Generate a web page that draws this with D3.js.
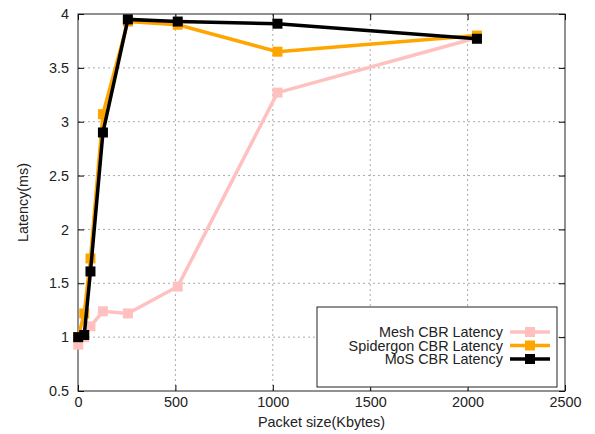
<!DOCTYPE html>
<html>
<head>
<meta charset="utf-8">
<script src="https://cdn.jsdelivr.net/npm/d3@7"></script>
<style>
  body { margin: 0; background: #fff; }
  text { font-family: "Liberation Sans", Arial, sans-serif; }
</style>
</head>
<body>
<div id="chart"></div>
<script>
// Packet sizes (Kbytes) and latency values
const packetSizes = [1, 32, 64, 128, 256, 512, 1024, 2048];
const meshLatency = [0.93, 1.0, 1.1, 1.24, 1.22, 1.47, 3.27, 3.78];
const spidergonLatency = [1.0, 1.22, 1.73, 3.07, 3.93, 3.90, 3.65, 3.80];
const mosLatency = [1.0, 1.02, 1.61, 2.90, 3.95, 3.93, 3.91, 3.77];
const seriesNames = ["Mesh CBR Latency", "Spidergon CBR Latency", "MoS CBR Latency"];
const seriesColors = ["#ffc0c0", "#ffa500", "#000000"];
const xTicks = [0, 500, 1000, 1500, 2000, 2500];
const yTicks = [0.5, 1, 1.5, 2, 2.5, 3, 3.5, 4];

var width = 595;
var height = 434;
var fontSize = "14.4px";
const margin = ({ top: 14, right: 30, bottom: 43, left: 78 });

var svg = d3.select("#chart").append("svg")
    .attr("width", width)
    .attr("height", height);

const xScale = d3.scaleLinear()
    .domain([0, 2500])
    .range([margin.left, width - margin.right]);
const yScale = d3.scaleLinear()
    .domain([0.5, 4])
    .range([height - margin.bottom, margin.top]);

const x0 = xScale.range()[0], x1 = xScale.range()[1];
const y0 = yScale.range()[0], y1 = yScale.range()[1];

// dotted grid
svg.append("g")
    .selectAll("line")
    .data(xTicks.slice(1, -1))
    .enter().append("line")
    .attr("x1", d => xScale(d)).attr("x2", d => xScale(d))
    .attr("y1", y0).attr("y2", y1)
    .attr("stroke", "#aaa")
    .attr("stroke-dasharray", "2,3");
svg.append("g")
    .selectAll("line")
    .data(yTicks.slice(1, -1))
    .enter().append("line")
    .attr("x1", x0).attr("x2", x1)
    .attr("y1", d => yScale(d)).attr("y2", d => yScale(d))
    .attr("stroke", "#aaa")
    .attr("stroke-dasharray", "2,3");

// axes, ticks pointing inward (mirrored on top/right)
const tickLen = 6;
const bottomAxis = svg.append("g")
    .attr("transform", `translate(0,${y0})`)
    .call(d3.axisBottom(xScale).tickValues(xTicks).tickSize(-tickLen).tickPadding(6).tickFormat(d3.format("d")));
const topAxis = svg.append("g")
    .attr("transform", `translate(0,${y1})`)
    .call(d3.axisTop(xScale).tickValues(xTicks).tickSize(-tickLen).tickFormat(""));
const leftAxis = svg.append("g")
    .attr("transform", `translate(${x0},0)`)
    .call(d3.axisLeft(yScale).tickValues(yTicks).tickSize(-tickLen).tickPadding(9).tickFormat(d3.format("")));
const rightAxis = svg.append("g")
    .attr("transform", `translate(${x1},0)`)
    .call(d3.axisRight(yScale).tickValues(yTicks).tickSize(-tickLen).tickFormat(""));

[bottomAxis, topAxis, leftAxis, rightAxis].forEach(g => {
    g.select(".domain").remove();
    g.selectAll("line").attr("stroke", "#000");
    g.selectAll("text")
        .attr("fill", "#222")
        .style("font-size", fontSize)
        .style("font-family", "'Liberation Sans', Arial, sans-serif");
});

// border box
svg.append("rect")
    .attr("x", x0).attr("y", y1)
    .attr("width", x1 - x0).attr("height", y0 - y1)
    .attr("fill", "none")
    .attr("stroke", "#222");

// axis titles
svg.append("text")
    .attr("x", (x0 + x1) / 2)
    .attr("y", 427)
    .attr("text-anchor", "middle")
    .style("font-size", fontSize)
    .attr("fill", "#222")
    .text("Packet size(Kbytes)");
svg.append("text")
    .attr("transform", `translate(28,${(y0 + y1) / 2}) rotate(-90)`)
    .attr("text-anchor", "middle")
    .style("font-size", fontSize)
    .attr("fill", "#222")
    .text("Latency(ms)");

// series
const allSeries = [meshLatency, spidergonLatency, mosLatency].map((vals, i) => ({
    name: seriesNames[i],
    color: seriesColors[i],
    points: packetSizes.map((p, j) => ({ x: p, y: vals[j] }))
}));

const line = d3.line()
    .x(d => xScale(d.x))
    .y(d => yScale(d.y));

const markerSize = 10;
allSeries.forEach(s => {
    const g = svg.append("g");
    g.append("path")
        .datum(s.points)
        .attr("d", line)
        .attr("fill", "none")
        .attr("stroke", s.color)
        .attr("stroke-width", 3.5);
    g.selectAll("rect")
        .data(s.points)
        .enter().append("rect")
        .attr("x", d => xScale(d.x) - markerSize / 2)
        .attr("y", d => yScale(d.y) - markerSize / 2)
        .attr("width", markerSize)
        .attr("height", markerSize)
        .attr("fill", s.color);
});

// legend
const legend = svg.append("g");
legend.append("rect")
    .attr("x", 317).attr("y", 307)
    .attr("width", 240).attr("height", 80)
    .attr("fill", "#fff")
    .attr("stroke", "#222");
allSeries.forEach((s, i) => {
    const ly = 332 + i * 13.5;
    legend.append("text")
        .attr("x", 503)
        .attr("y", ly)
        .attr("dy", "0.35em")
        .attr("text-anchor", "end")
        .style("font-size", fontSize)
        .attr("fill", "#222")
        .text(s.name);
    legend.append("line")
        .attr("x1", 510).attr("x2", 550)
        .attr("y1", ly).attr("y2", ly)
        .attr("stroke", s.color)
        .attr("stroke-width", 3.5);
    legend.append("rect")
        .attr("x", 530 - markerSize / 2)
        .attr("y", ly - markerSize / 2)
        .attr("width", markerSize).attr("height", markerSize)
        .attr("fill", s.color);
});
</script>
</body>
</html>
